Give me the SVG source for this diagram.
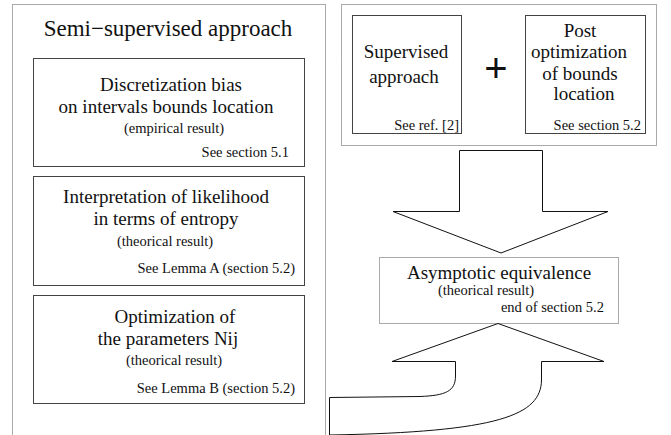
<svg xmlns="http://www.w3.org/2000/svg" width="671" height="435" viewBox="0 0 671 435">
<style>
text{font-family:"Liberation Serif","Times New Roman",serif;fill:#111}
.t{font-size:19px;text-anchor:middle}
.s{font-size:14.5px;text-anchor:middle}
.r{font-size:14.5px;text-anchor:end}
.box{fill:#fff;stroke:#444;stroke-width:1}
.dot{fill:none;stroke:#555;stroke-width:1;stroke-dasharray:1,1}
.arr{fill:#fff;stroke:#111;stroke-width:1}
</style>
<rect width="671" height="435" fill="#fff"/>
<g id="semi">
<rect class="dot" x="12.5" y="4.5" width="313" height="440"/>
<text x="168" y="36" style="font-size:23px;text-anchor:middle">Semi−supervised approach</text>
</g>
<g id="discretization">
<rect class="box" x="33.5" y="58.5" width="271" height="108"/>
<text class="t" x="171" y="91">Discretization bias</text>
<text class="t" x="166" y="113">on intervals bounds location</text>
<text class="s" x="174" y="133">(empirical result)</text>
<text class="r" x="289" y="157">See section 5.1</text>
</g>
<g id="interpretation">
<rect class="box" x="33.5" y="176.5" width="271" height="109"/>
<text class="t" x="166" y="203">Interpretation of likelihood</text>
<text class="t" x="166" y="225">in terms of entropy</text>
<text class="s" x="165" y="246">(theorical result)</text>
<text class="r" x="295" y="273">See Lemma A (section 5.2)</text>
</g>
<g id="optimization">
<rect class="box" x="33.5" y="295.5" width="271" height="108"/>
<text class="t" x="175" y="323">Optimization of</text>
<text class="t" x="168" y="345">the parameters Nij</text>
<text class="s" x="174" y="365">(theorical result)</text>
<text class="r" x="295" y="393">See Lemma B (section 5.2)</text>
</g>
<g id="top-group">
<rect class="dot" x="341.5" y="4.5" width="315" height="141"/>
</g>
<g id="supervised">
<rect class="box" x="352.5" y="15.5" width="109" height="118"/>
<text class="t" x="406" y="58">Supervised</text>
<text class="t" x="404" y="83">approach</text>
<text class="r" x="459" y="130">See ref. [2]</text>
</g>
<g id="plus">
<text x="496" y="82" style="font-size:40px;text-anchor:middle;font-family:'Liberation Sans',sans-serif">+</text>
</g>
<g id="post">
<rect class="box" x="525.5" y="15.5" width="120" height="118"/>
<text class="t" x="580" y="37">Post</text>
<text class="t" x="579" y="58">optimization</text>
<text class="t" x="580" y="80">of bounds</text>
<text class="t" x="584" y="100">location</text>
<text class="r" x="641" y="130">See section 5.2</text>
</g>
<g id="asymptotic">
<rect class="dot" x="379.5" y="257.5" width="239" height="66" fill="#fff"/>
<text class="t" x="499" y="278.5">Asymptotic equivalence</text>
<text class="s" x="486" y="295">(theorical result)</text>
<text class="r" x="604" y="312">end of section 5.2</text>
</g>
<g id="connectors">
<polygon class="arr" points="459.5,150.5 542.5,150.5 542.5,211.5 608,211.5 501,253 393,211.5 459.5,211.5"/>
<path class="arr" d="M329.5,436 L329.5,397.5 L420,396.5 C446,395.5 455.5,391 455.5,376 L455.5,361.5 L392,361.5 L498,323.5 L604,361.5 L541.5,361.5 L541.5,380 C541,415 500,432 329.5,435"/>
</g>
</svg>
